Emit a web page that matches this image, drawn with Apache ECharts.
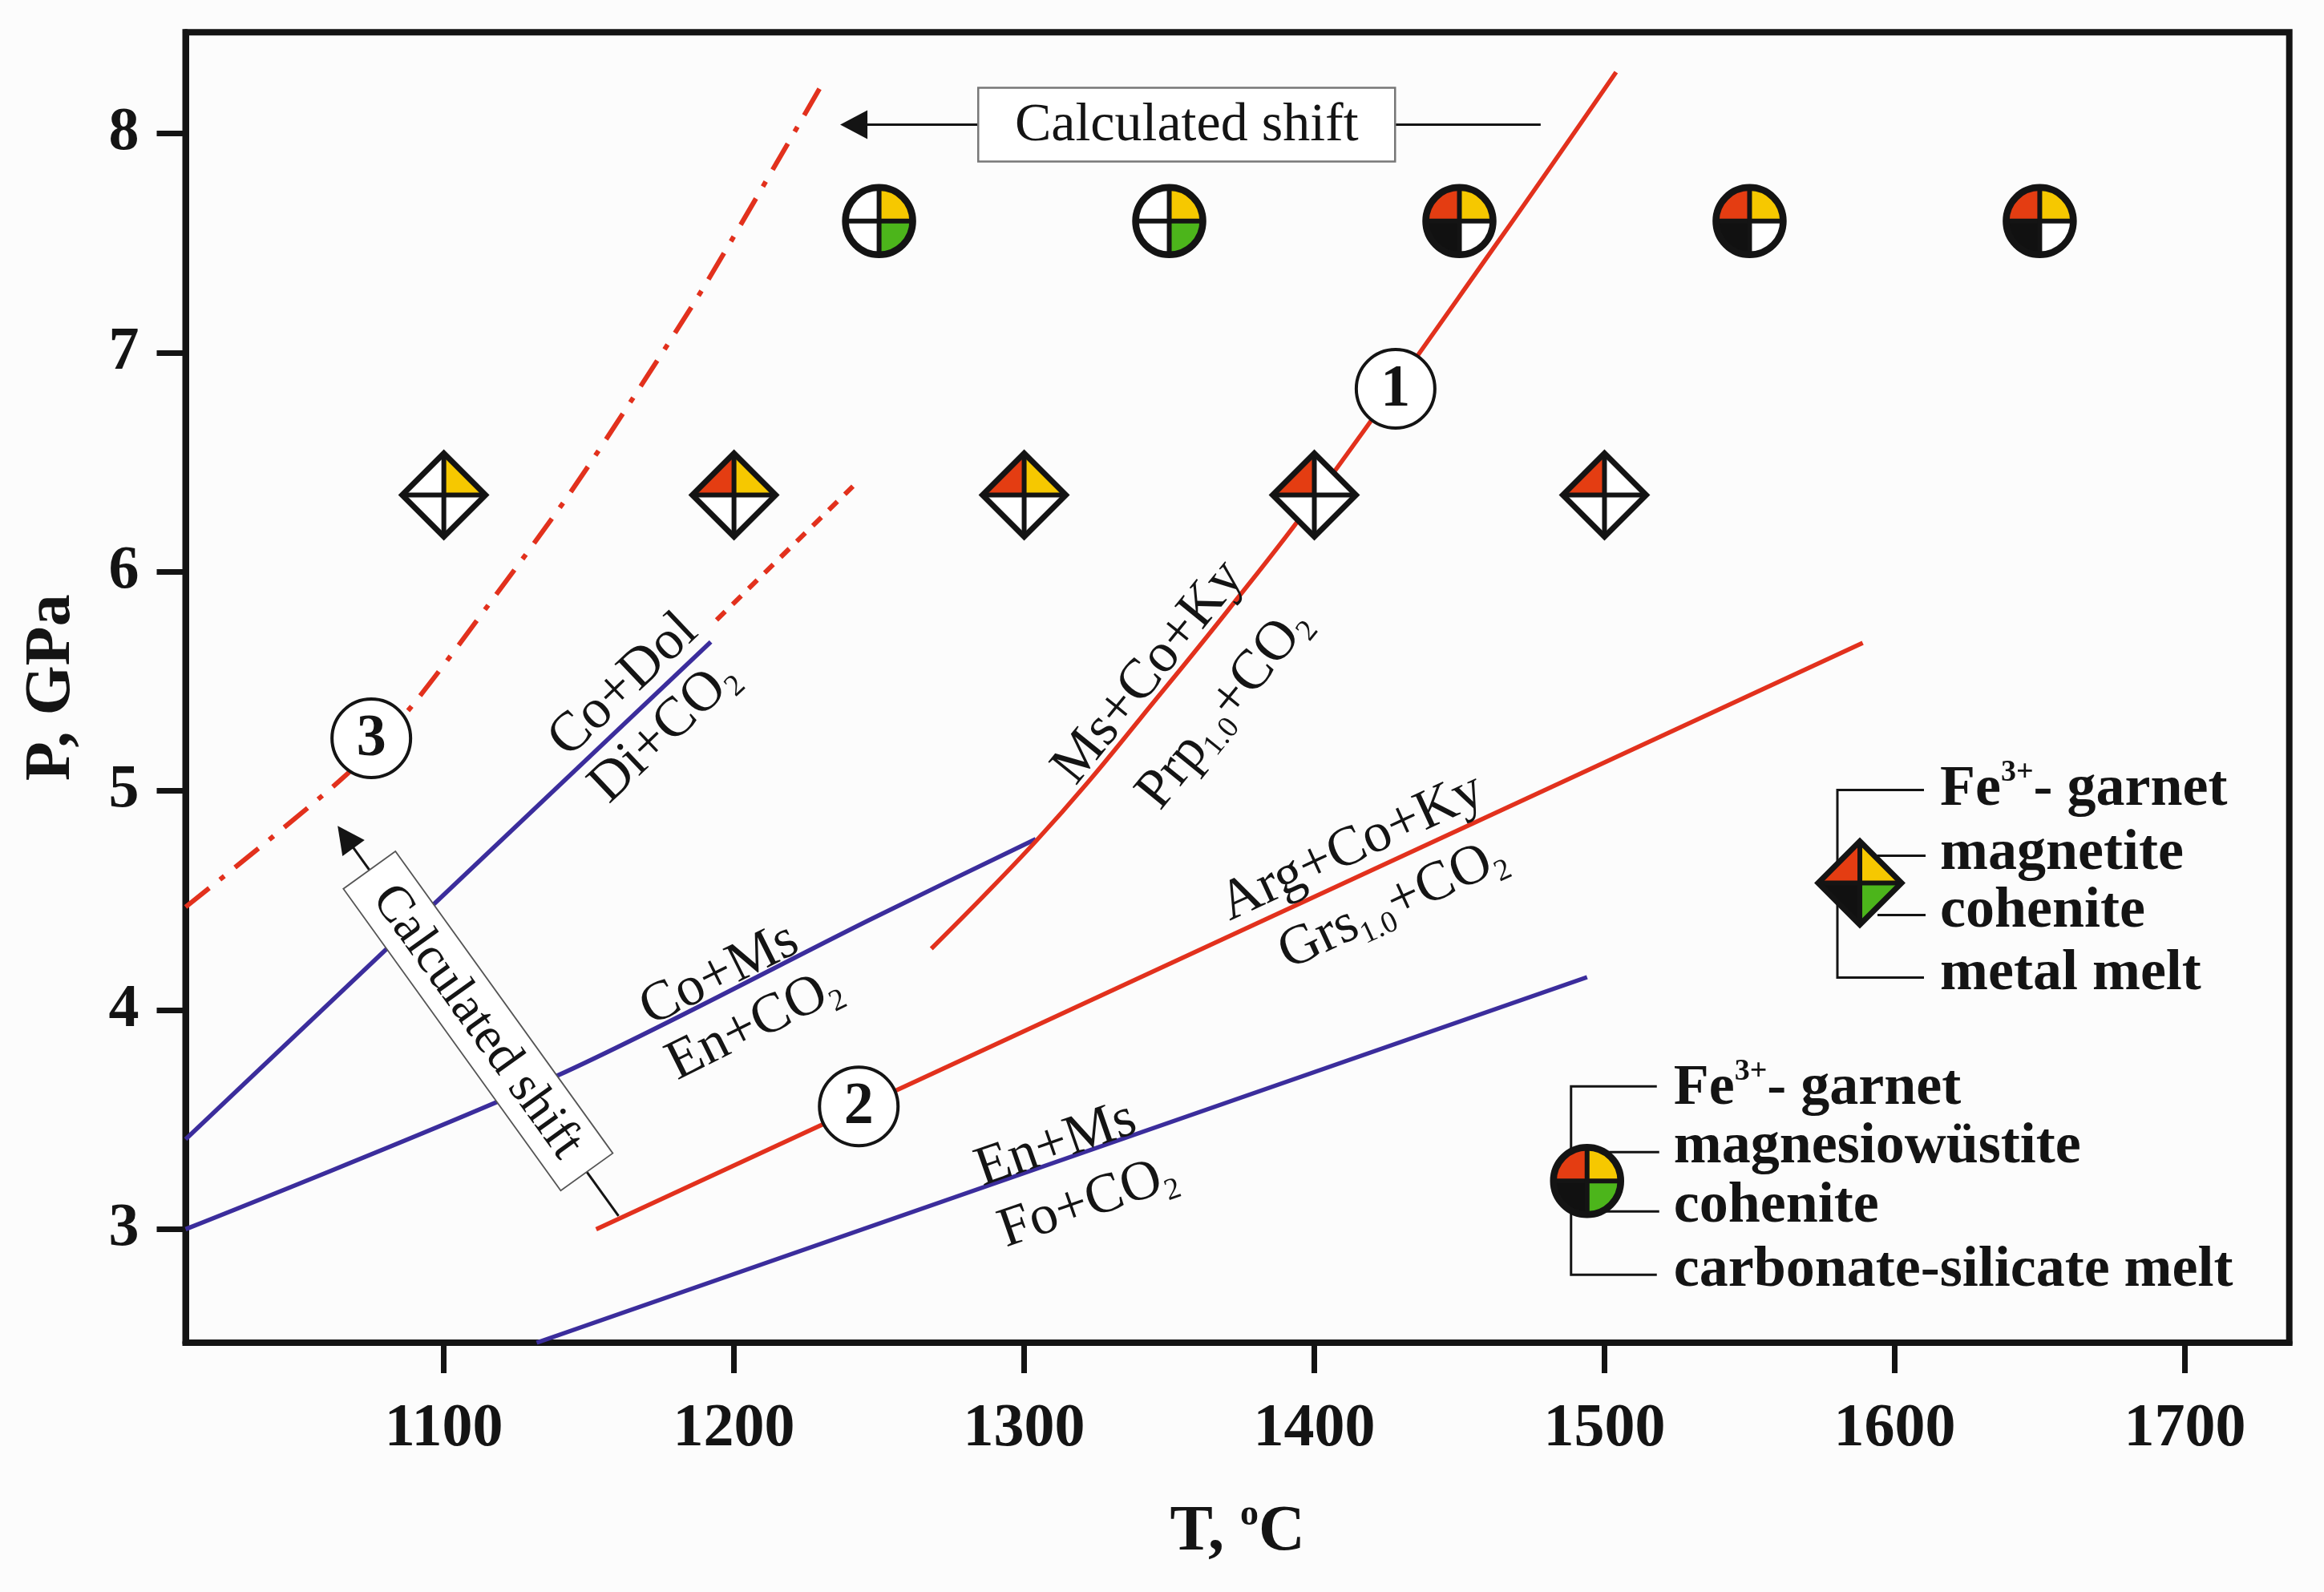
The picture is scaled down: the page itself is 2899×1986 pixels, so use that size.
<!DOCTYPE html>
<html>
<head>
<meta charset="utf-8">
<script src="https://cdn.jsdelivr.net/npm/echarts@6/dist/echarts.min.js"></script>
<style>
  html, body { margin: 0; padding: 0; background: #fcfcfc; }
  #chart { width: 2899px; height: 1986px; }
</style>
</head>
<body>
<div id="chart"></div>
<script>
// ================= DATA =================
const temperatureTicks = [1100, 1200, 1300, 1400, 1500, 1600, 1700];
const pressureTicks = [3, 4, 5, 6, 7, 8];
const temperatureRange = [1011, 1736];
const pressureRange = [2.482, 8.462];

// reaction curves  [T (°C), P (GPa)]
const coDolDiCO2 = [[1011, 3.41], [1192, 5.68]];
const coMsEnCO2 = [[1011, 3.0], [1139, 3.70], [1248, 4.42], [1304, 4.78]];
const enMsFoCO2 = [[1132, 2.482], [1494, 4.15]];
const msCoKyPrpCO2 = [[1268, 4.28], [1286, 4.52], [1304, 4.77], [1322, 5.04], [1340, 5.33], [1370, 5.82], [1401, 6.35], [1463, 7.5], [1504, 8.28]];
const argCoKyGrsCO2 = [[1152.5, 3.0], [1589, 5.675]];
const coDolShifted = [[1194, 5.78], [1241, 6.39]];
const curve3Shifted = [[1011, 4.47], [1064, 5.045], [1086, 5.34], [1116, 5.86], [1143, 6.35], [1168, 6.85], [1191, 7.33], [1231, 8.24]];

// experimental runs
const circleRunTemps = [1250, 1350, 1450, 1550, 1650];
const circleRunPressure = 7.6;
// quadrants: top-left, top-right, bottom-left, bottom-right
const circleRunPhases = [
  ['w', 'y', 'w', 'g'],
  ['w', 'y', 'w', 'g'],
  ['r', 'y', 'k', 'w'],
  ['r', 'y', 'k', 'w'],
  ['r', 'y', 'k', 'w']
];
const diamondRunTemps = [1100, 1200, 1300, 1400, 1500];
const diamondRunPressure = 6.35;
const diamondRunPhases = [
  ['w', 'y', 'w', 'w'],
  ['r', 'y', 'w', 'w'],
  ['r', 'y', 'w', 'w'],
  ['r', 'w', 'w', 'w'],
  ['r', 'w', 'w', 'w']
];
const legendPhases = ['r', 'y', 'k', 'g'];

// ================= TEXT / ANNOTATIONS =================
const reactionLabelTexts = [
  '{n|Co+Dol}', '{n|Di+CO}{s|2}',
  '{n|Co+Ms}', '{n|En+CO}{s|2}',
  '{n|Ms+Co+Ky}', '{n|Prp}{s|1.0}{n|+CO}{s|2}',
  '{n|Arg+Co+Ky}', '{n|Grs}{s|1.0}{n|+CO}{s|2}',
  '{n|En+Ms}', '{n|Fo+CO}{s|2}'
];
const reactionLabelLines = [coDolDiCO2, coDolDiCO2, coMsEnCO2, coMsEnCO2, msCoKyPrpCO2, msCoKyPrpCO2, argCoKyGrsCO2, argCoKyGrsCO2, enMsFoCO2, enMsFoCO2];
const reactionLabelAnchors = [[1162, 5.48], [1176, 5.27], [1195, 4.16], [1207, 3.93], [1343, 5.54], [1369, 5.375], [1413, 4.74], [1427, 4.48], [1311, 3.385], [1322, 3.12]];

const circledNumberTexts = ['1', '2', '3'];
const circledNumberAnchors = [[1428, 6.835], [1243, 3.56], [1075, 5.24]];

const topShift = { box: [1356, 8.04], from: [1478, 8.04], to: [1236.6, 8.04] };
const leftShift = { from: [1160.2, 3.06], to: [1063.4, 4.84] };

const legendDiamondAt = [1588, 4.58];
const legendCircleAt = [1494, 3.22];
const diamondLegendTexts = ['{b|Fe}{sup|3+}{b|- garnet}', '{b|magnetite}', '{b|cohenite}', '{b|metal melt}'];
const circleLegendTexts = ['{b|Fe}{sup|3+}{b|- garnet}', '{b|magnesiowüstite}', '{b|cohenite}', '{b|carbonate-silicate melt}'];

// ================= STYLE =================
const SERIF = '"Liberation Serif", "Times New Roman", serif';
const INK = '#141414';
const BLUE = '#3b2d9c';
const RED = '#e2311d';
const phaseColors = { w: '#ffffff', y: '#f6c800', r: '#e43d12', g: '#4cb51b', k: '#111111' };

const labelRich = {
  n: { fontFamily: SERIF, fontSize: 70, lineHeight: 78, verticalAlign: 'middle', fill: INK },
  s: { fontFamily: SERIF, fontSize: 38, lineHeight: 30, verticalAlign: 'bottom', fill: INK }
};
const legendRich = {
  b: { fontFamily: SERIF, fontSize: 72, fontWeight: 'bold', lineHeight: 80, verticalAlign: 'middle', fill: INK },
  sup: { fontFamily: SERIF, fontSize: 38, fontWeight: 'bold', lineHeight: 50, verticalAlign: 'top', fill: INK }
};

function quadMarker(kind, cx, cy, fills) {
  const els = [];
  if (kind === 'circle') {
    const r = 42;
    const quads = [[Math.PI, 1.5 * Math.PI], [1.5 * Math.PI, 2 * Math.PI], [0.5 * Math.PI, Math.PI], [0, 0.5 * Math.PI]];
    quads.forEach((q, i) => els.push({
      type: 'sector',
      shape: { cx, cy, r0: 0, r: r, startAngle: q[0], endAngle: q[1], clockwise: true },
      style: { fill: phaseColors[fills[i]] }
    }));
    els.push({ type: 'line', shape: { x1: cx - r, y1: cy, x2: cx + r, y2: cy }, style: { stroke: INK, lineWidth: 6 } });
    els.push({ type: 'line', shape: { x1: cx, y1: cy - r, x2: cx, y2: cy + r }, style: { stroke: INK, lineWidth: 6 } });
    els.push({ type: 'circle', shape: { cx, cy, r: r }, style: { fill: 'none', stroke: INK, lineWidth: 8.5 } });
  } else {
    const h = 52;
    const T = [cx, cy - h], R = [cx + h, cy], B = [cx, cy + h], L = [cx - h, cy], O = [cx, cy];
    const tris = [[T, O, L], [T, R, O], [L, O, B], [O, R, B]];
    tris.forEach((pts, i) => els.push({ type: 'polygon', shape: { points: pts }, style: { fill: phaseColors[fills[i]] } }));
    els.push({ type: 'line', shape: { x1: L[0], y1: cy, x2: R[0], y2: cy }, style: { stroke: INK, lineWidth: 6 } });
    els.push({ type: 'line', shape: { x1: cx, y1: T[1], x2: cx, y2: B[1] }, style: { stroke: INK, lineWidth: 6 } });
    els.push({ type: 'polygon', shape: { points: [T, R, B, L] }, style: { fill: 'none', stroke: INK, lineWidth: 7, lineJoin: 'miter' } });
  }
  return els;
}

function lineAngleAt(api, line, t) {
  let i = 0;
  while (i < line.length - 2 && line[i + 1][0] < t) i++;
  const p1 = api.coord(line[i]);
  const p2 = api.coord(line[i + 1]);
  return Math.atan2(-(p2[1] - p1[1]), p2[0] - p1[0]);
}

function legendBlock(cx, cy, kind, texts, g) {
  const els = quadMarker(kind, cx, cy, legendPhases);
  const st = { stroke: INK, lineWidth: 3, fill: 'none' };
  els.unshift(
    { type: 'polyline', shape: { points: [[cx + g.hEnd, cy + g.top], [cx + g.vx, cy + g.top], [cx + g.vx, cy + g.bottom], [cx + g.hEnd, cy + g.bottom]] }, style: st },
    { type: 'line', shape: { x1: cx + g.mStart, y1: cy + g.m1, x2: cx + g.mEnd, y2: cy + g.m1 }, style: st },
    { type: 'line', shape: { x1: cx + g.mStart, y1: cy + g.m2, x2: cx + g.mEnd, y2: cy + g.m2 }, style: st }
  );
  texts.forEach((t, i) => els.push({
    type: 'text', x: cx + g.tx, y: cy + g.ty[i],
    style: { text: t, rich: legendRich, align: 'left', verticalAlign: 'middle', fill: INK }
  }));
  return els;
}

function lineSeries(data, color, type, smooth, width) {
  return {
    type: 'line', data: data, symbol: 'none', showSymbol: false, smooth: smooth, clip: true, silent: true, z: 2,
    lineStyle: { color: color, width: width || 5.5, type: type, cap: 'butt' }
  };
}

const chart = echarts.init(document.getElementById('chart'), null, { renderer: 'canvas' });

const option = {
  animation: false,
  backgroundColor: '#fcfcfc',
  grid: {
    left: 231.5, right: 43.3, top: 40.2, bottom: 311,
    show: true, borderColor: INK, borderWidth: 8, backgroundColor: '#fcfcfc',
    containLabel: false, outerBoundsMode: 'none'
  },
  xAxis: {
    type: 'value', min: temperatureRange[0], max: temperatureRange[1],
    name: '{n|T, }{o|o}{n|C}', nameLocation: 'middle', nameGap: 192, nameMoveOverlap: false,
    nameTextStyle: {
      rich: {
        n: { fontFamily: SERIF, fontSize: 80, fontWeight: 'bold', color: INK, lineHeight: 90, verticalAlign: 'middle' },
        o: { fontFamily: SERIF, fontSize: 46, fontWeight: 'bold', color: INK, lineHeight: 62, verticalAlign: 'top' }
      }
    },
    axisLine: { show: true, onZero: false, lineStyle: { color: INK, width: 8 } },
    axisTick: { show: true, inside: false, length: 38, lineStyle: { color: INK, width: 7 }, customValues: temperatureTicks },
    axisLabel: { customValues: temperatureTicks, formatter: v => String(v), margin: 70, fontFamily: SERIF, fontSize: 76, fontWeight: 'bold', color: INK },
    splitLine: { show: false }
  },
  yAxis: {
    type: 'value', min: pressureRange[0], max: pressureRange[1],
    name: 'P, GPa', nameLocation: 'middle', nameGap: 126, nameRotate: 90, nameMoveOverlap: false,
    nameTextStyle: { fontFamily: SERIF, fontSize: 80, fontWeight: 'bold', color: INK },
    axisLine: { show: true, onZero: false, lineStyle: { color: INK, width: 8 } },
    axisTick: { show: true, inside: false, length: 36, lineStyle: { color: INK, width: 7 }, customValues: pressureTicks },
    axisLabel: { customValues: pressureTicks, formatter: v => String(v), margin: 58, fontFamily: SERIF, fontSize: 76, fontWeight: 'bold', color: INK },
    splitLine: { show: false }
  },
  series: [
    lineSeries(coDolDiCO2, BLUE, 'solid', false),
    lineSeries(coMsEnCO2, BLUE, 'solid', 0.3),
    lineSeries(enMsFoCO2, BLUE, 'solid', false),
    lineSeries(msCoKyPrpCO2, RED, 'solid', 0.4),
    lineSeries(argCoKyGrsCO2, RED, 'solid', false),
    lineSeries(coDolShifted, RED, [15, 13], false, 6),
    lineSeries(curve3Shifted, RED, [38, 17, 7, 17], 0.3, 6),
    // reaction labels
    {
      type: 'custom', z: 3, silent: true,
      data: reactionLabelAnchors,
      renderItem: function (params, api) {
        const i = params.dataIndex;
        const p = api.coord([api.value(0), api.value(1)]);
        const ang = lineAngleAt(api, reactionLabelLines[i], api.value(0));
        return {
          type: 'text', x: p[0], y: p[1], rotation: ang,
          style: { text: reactionLabelTexts[i], rich: labelRich, align: 'center', verticalAlign: 'middle', fill: INK }
        };
      }
    },
    // circled numbers
    {
      type: 'custom', z: 4, silent: true,
      data: circledNumberAnchors,
      renderItem: function (params, api) {
        const p = api.coord([api.value(0), api.value(1)]);
        return {
          type: 'group', children: [
            { type: 'circle', shape: { cx: p[0], cy: p[1], r: 49 }, style: { fill: '#ffffff', stroke: INK, lineWidth: 4 } },
            { type: 'text', x: p[0], y: p[1] + 2, style: { text: circledNumberTexts[params.dataIndex], fontFamily: SERIF, fontSize: 74, fontWeight: 'bold', fill: INK, align: 'center', verticalAlign: 'middle' } }
          ]
        };
      }
    },
    // circle runs
    {
      type: 'custom', z: 5, silent: true,
      data: circleRunTemps.map(t => [t, circleRunPressure]),
      renderItem: function (params, api) {
        const p = api.coord([api.value(0), api.value(1)]);
        return { type: 'group', children: quadMarker('circle', p[0], p[1], circleRunPhases[params.dataIndex]) };
      }
    },
    // diamond runs
    {
      type: 'custom', z: 5, silent: true,
      data: diamondRunTemps.map(t => [t, diamondRunPressure]),
      renderItem: function (params, api) {
        const p = api.coord([api.value(0), api.value(1)]);
        return { type: 'group', children: quadMarker('diamond', p[0], p[1], diamondRunPhases[params.dataIndex]) };
      }
    },
    // top "Calculated shift" arrow
    {
      type: 'custom', z: 6, silent: true,
      data: [topShift.box],
      renderItem: function (params, api) {
        const b = api.coord(topShift.box);
        const f = api.coord(topShift.from);
        const t = api.coord(topShift.to);
        return {
          type: 'group', children: [
            { type: 'line', shape: { x1: f[0], y1: f[1], x2: t[0] + 30, y2: t[1] }, style: { stroke: INK, lineWidth: 3 } },
            { type: 'polygon', shape: { points: [[t[0], t[1]], [t[0] + 34, t[1] - 18], [t[0] + 34, t[1] + 18]] }, style: { fill: INK } },
            { type: 'rect', shape: { x: b[0] - 260, y: b[1] - 46, width: 520, height: 92 }, style: { fill: '#ffffff', stroke: '#777777', lineWidth: 2.5 } },
            { type: 'text', x: b[0], y: b[1] + 2, style: { text: 'Calculated shift', fontFamily: SERIF, fontSize: 68, fill: INK, align: 'center', verticalAlign: 'middle' } }
          ]
        };
      }
    },
    // left rotated "Calculated shift" arrow
    {
      type: 'custom', z: 6, silent: true,
      data: [leftShift.to],
      renderItem: function (params, api) {
        const a = api.coord(leftShift.from);
        const tip = api.coord(leftShift.to);
        const dx = tip[0] - a[0], dy = tip[1] - a[1];
        const len = Math.sqrt(dx * dx + dy * dy);
        const ux = dx / len, uy = dy / len;
        const base = [tip[0] - ux * 34, tip[1] - uy * 34];
        const nx = -uy, ny = ux;
        const mid = [(a[0] + tip[0]) / 2, (a[1] + tip[1]) / 2];
        const rot = -Math.atan2(a[1] - tip[1], a[0] - tip[0]);
        return {
          type: 'group', children: [
            { type: 'line', shape: { x1: a[0], y1: a[1], x2: base[0] + ux * 4, y2: base[1] + uy * 4 }, style: { stroke: INK, lineWidth: 3 } },
            { type: 'polygon', shape: { points: [tip, [base[0] + nx * 17, base[1] + ny * 17], [base[0] - nx * 17, base[1] - ny * 17]] }, style: { fill: INK } },
            {
              type: 'group', x: mid[0], y: mid[1], rotation: rot, children: [
                { type: 'rect', shape: { x: -232, y: -40, width: 464, height: 80 }, style: { fill: '#ffffff', stroke: '#555555', lineWidth: 1.8 } },
                { type: 'text', x: 0, y: 2, style: { text: 'Calculated shift', fontFamily: SERIF, fontSize: 64, fill: INK, align: 'center', verticalAlign: 'middle' } }
              ]
            }
          ]
        };
      }
    },
    // legends
    {
      type: 'custom', z: 6, silent: true,
      data: [legendDiamondAt, legendCircleAt],
      renderItem: function (params, api) {
        const p = api.coord([api.value(0), api.value(1)]);
        if (params.dataIndex === 0) {
          return { type: 'group', children: legendBlock(p[0], p[1], 'diamond', diamondLegendTexts,
            { vx: -28, top: -116, bottom: 118, hEnd: 80, mStart: 22, mEnd: 82, m1: -34, m2: 40, tx: 100, ty: [-116, -36, 36, 114] }) };
        }
        return { type: 'group', children: legendBlock(p[0], p[1], 'circle', circleLegendTexts,
          { vx: -20, top: -118, bottom: 117, hEnd: 87, mStart: 18, mEnd: 90, m1: -36, m2: 38, tx: 108, ty: [-115, -42, 32, 112] }) };
      }
    }
  ]
};

chart.setOption(option);
</script>
</body>
</html>
